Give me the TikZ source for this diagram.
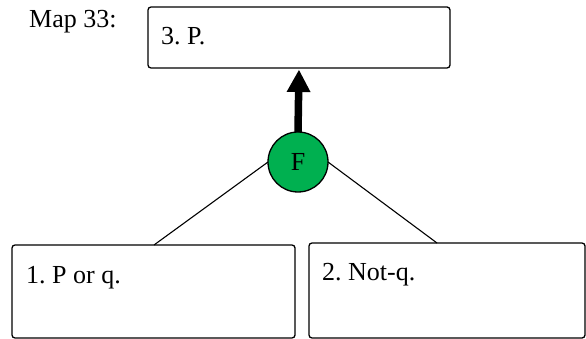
\documentclass[tikz,border=0pt]{standalone}
\usepackage{fontspec}
\setmainfont{Liberation Serif}
\usetikzlibrary{arrows.meta}
\definecolor{fgreen}{HTML}{00B050}
\frenchspacing
\begin{document}
\begin{tikzpicture}[x=1pt,y=-1pt,
  box/.style={draw, line width=1.3pt, rounded corners=3pt, inner sep=0pt, outer sep=0pt, anchor=north west},
  lbl/.style={font=\fontsize{26}{31}\selectfont, inner sep=0pt, anchor=base west},
  link/.style={line width=1.1pt}]
\useasboundingbox (0,0) rectangle (586,339);
\node[box, minimum width=302pt, minimum height=61pt] (top) at (148,7) {};
\node[box, minimum width=283pt, minimum height=93pt] (left) at (12,245) {};
\node[box, minimum width=276pt, minimum height=95pt] (right) at (309,243) {};
\node[circle, draw, line width=1.3pt, fill=fgreen, minimum size=60pt, inner sep=0pt, outer sep=0pt, font=\fontsize{26}{31}\selectfont] (f) at (298,162) {F};
\node[lbl] (map) at (29,28) {Map 33:};
\node[lbl] (t3) at (161,45) {3. P.};
\node[lbl] (t1) at (26,283) {1. P or q.};
\node[lbl] (t2) at (322,280) {2. Not-q.};
\coordinate (lt) at (154,245);
\coordinate (rt) at (437,243);
\draw[link] (f.west) -- (lt);
\draw[link] (f.east) -- (rt);
\draw[line width=7.5pt, -{Triangle[length=22pt,width=24pt,line width=0pt]}, shorten >=2pt] (f.north) -- (top.south);
\end{tikzpicture}
\end{document}
